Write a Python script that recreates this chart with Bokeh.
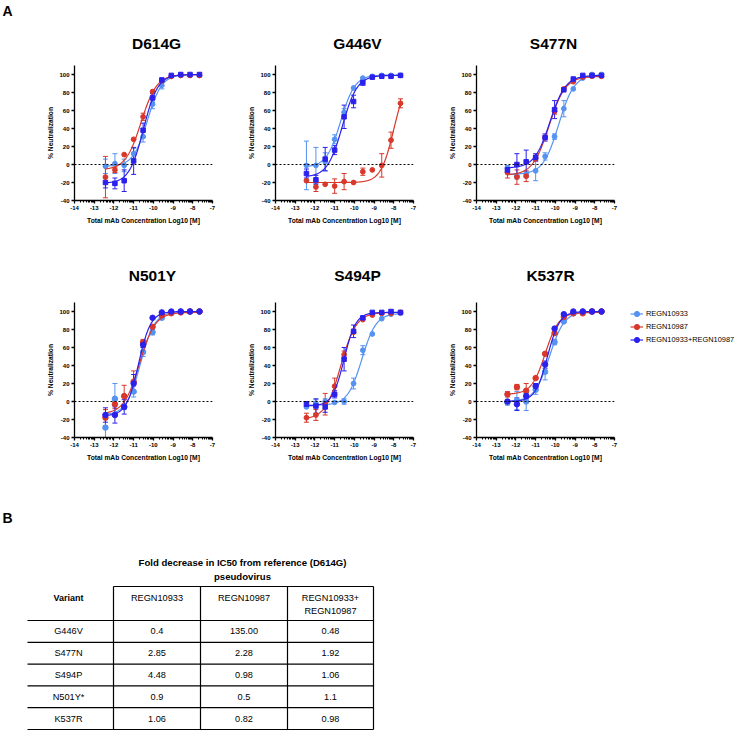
import numpy as np
from bokeh.plotting import figure
from bokeh.layouts import column, row
from bokeh.models import (Range1d, FixedTicker, Span, Whisker, TeeHead, ColumnDataSource,
                          Legend, LegendItem, Spacer)
from bokeh.core.properties import value
from bokeh.embed import file_html
from bokeh.resources import INLINE

# ---------------- data ----------------
conc = [-12.43, -11.95, -11.48, -11.00, -10.52, -10.04, -9.57, -9.09, -8.61, -8.14, -7.66]
series_names = ["REGN10933", "REGN10987", "REGN10933+REGN10987"]
variants_row1 = ["D614G", "G446V", "S477N"]
variants_row2 = ["N501Y", "S494P", "K537R"]

xticks = [-14, -13, -12, -11, -10, -9, -8, -7]
xtick_labels = ["-14", "-13", "-12", "-11", "-10", "-9", "-8", "-7"]
yticks = [-40, -20, 0, 20, 40, 60, 80, 100]
ytick_labels = ["-40", "-20", "0", "20", "40", "60", "80", "100"]

# D614G
d614g_10933 = [-2, 1, -1, 12, 31, 67, 88, 98, 99, 99, 99]
d614g_10933_sd = [8, 11, 7, 6, 6, 5, 4, 0, 0, 0, 0]
d614g_10987 = [-14, -6, 11, 28, 53, 81, 93, 98, 99, 99, 99]
d614g_10987_sd = [23, 3, 0, 0, 4, 2, 2, 0, 0, 0, 0]
d614g_combo = [-20, -21, -18, 4, 38, 74, 94, 99, 100, 100, 100]
d614g_combo_sd = [6, 6, 12, 15, 8, 5, 2, 0, 0, 0, 0]
d614g_fit_10933 = [-2, 100, -10.30, 1.2]
d614g_fit_10987 = [-6, 100, -10.62, 1.1]
d614g_fit_combo = [-21, 100, -10.50, 1.2]

# G446V
g446v_10933 = [-1, -1, 3, 28, 58, 85, 96, 98, 99, 99, 99]
g446v_10933_sd = [27, 20, 10, 5, 4, 2, 2, 0, 0, 0, 0]
g446v_10987 = [-18, -25, -22, -24, -19, -20, -8, -6, -1, 27, 68]
g446v_10987_sd = [0, 5, 0, 8, 9, 0, 4, 0, 13, 9, 5]
g446v_combo = [-10, -17, 6, 16, 53, 70, 91, 97, 98, 98, 99]
g446v_combo_sd = [5, 5, 13, 5, 13, 7, 3, 0, 0, 0, 0]
g446v_fit_10933 = [-3, 99.5, -10.69, 1.2]
g446v_fit_10987 = [-20, 100, -7.99, 1.3]
g446v_fit_combo = [-14, 99, -10.61, 1.15]

# S477N
s477n_10933 = [-4, -13, -11, -7, 9, 31, 62, 84, 96, 100, 100]
s477n_10933_sd = [3, 3, 3, 11, 4, 3, 9, 0, 0, 0, 0]
s477n_10987 = [-9, -14, -13, 7, 30, 59, 84, 92, 97, 98, 98]
s477n_10987_sd = [6, 8, 6, 3, 2, 3, 2, 0, 0, 0, 0]
s477n_combo = [-6, 0, 3, 8, 30, 61, 83, 95, 99, 99, 99]
s477n_combo_sd = [3, 12, 13, 4, 4, 10, 2, 0, 0, 0, 0]
s477n_fit_10933 = [-11, 100, -9.83, 1.1]
s477n_fit_10987 = [-12, 98, -10.32, 1.05]
s477n_fit_combo = [-4, 99, -10.27, 1.1]

# N501Y
n501y_10933 = [-29, 3, -6, 11, 55, 77, 93, 99, 100, 100, 100]
n501y_10933_sd = [12, 17, 3, 6, 5, 3, 0, 0, 0, 0, 0]
n501y_10987 = [-18, -3, 6, 22, 66, 83, 96, 98, 99, 100, 100]
n501y_10987_sd = [9, 5, 12, 12, 3, 2, 0, 0, 0, 0, 0]
n501y_combo = [-15, -15, -6, 20, 63, 93, 99, 100, 100, 100, 100]
n501y_combo_sd = [8, 9, 8, 10, 3, 0, 0, 0, 0, 0, 0]
n501y_fit_10933 = [-15, 100, -10.65, 1.2]
n501y_fit_10987 = [-14, 99, -10.70, 1.1]
n501y_fit_combo = [-16, 100, -10.75, 1.4]

# S494P
s494p_10933 = [-6, -2, 0, -1, 0, 20, 57, 75, 92, 97, 98]
s494p_10933_sd = [2, 4, 3, 0, 3, 6, 5, 0, 0, 0, 0]
s494p_10987 = [-18, -15, -3, 17, 52, 77, 91, 96, 98, 98, 99]
s494p_10987_sd = [5, 6, 12, 9, 4, 2, 0, 0, 0, 0, 0]
s494p_combo = [-3, -5, -6, 8, 47, 78, 93, 99, 99, 100, 99]
s494p_combo_sd = [3, 8, 6, 4, 13, 7, 0, 0, 0, 0, 0]
s494p_fit_10933 = [-4, 98, -9.62, 1.2]
s494p_fit_10987 = [-20, 99, -10.69, 1.1]
s494p_fit_combo = [-5, 99, -10.52, 1.45]

# K537R
k537r_10933 = [-1, 1, 0, 13, 33, 66, 89, 98, 100, 100, 100]
k537r_10933_sd = [3, 10, 10, 5, 9, 3, 2, 0, 0, 0, 0]
k537r_10987 = [8, 16, 12, 26, 53, 76, 94, 98, 98, 100, 100]
k537r_10987_sd = [3, 3, 8, 2, 2, 2, 0, 0, 0, 0, 0]
k537r_combo = [0, -3, 6, 17, 41, 81, 97, 100, 100, 100, 100]
k537r_combo_sd = [2, 7, 3, 3, 4, 2, 0, 0, 0, 0, 0]
k537r_fit_10933 = [0, 100, -10.30, 1.15]
k537r_fit_10987 = [8, 99, -10.51, 1.25]
k537r_fit_combo = [0, 100, -10.40, 1.4]

# Table B
table_title = ["Fold decrease in IC50 from reference (D614G)", "pseudovirus"]
table_header = ["REGN10933", "REGN10987", "REGN10933+\nREGN10987"]
table_variants = ["G446V", "S477N", "S494P", "N501Y*", "K537R"]
fold_10933 = ["0.4", "2.85", "4.48", "0.9", "1.06"]
fold_10987 = ["135.00", "2.28", "0.98", "0.5", "0.82"]
fold_combo = ["0.48", "1.92", "1.06", "1.1", "0.98"]

# ---------------- style ----------------
FONT = "Liberation Sans"
COLORS = ["#5592f2", "#d8372a", "#2b20ec"]

panels = {
    "D614G": ([d614g_10933, d614g_10987, d614g_combo],
              [d614g_10933_sd, d614g_10987_sd, d614g_combo_sd],
              [d614g_fit_10933, d614g_fit_10987, d614g_fit_combo], "square"),
    "G446V": ([g446v_10933, g446v_10987, g446v_combo],
              [g446v_10933_sd, g446v_10987_sd, g446v_combo_sd],
              [g446v_fit_10933, g446v_fit_10987, g446v_fit_combo], "square"),
    "S477N": ([s477n_10933, s477n_10987, s477n_combo],
              [s477n_10933_sd, s477n_10987_sd, s477n_combo_sd],
              [s477n_fit_10933, s477n_fit_10987, s477n_fit_combo], "square"),
    "N501Y": ([n501y_10933, n501y_10987, n501y_combo],
              [n501y_10933_sd, n501y_10987_sd, n501y_combo_sd],
              [n501y_fit_10933, n501y_fit_10987, n501y_fit_combo], "circle"),
    "S494P": ([s494p_10933, s494p_10987, s494p_combo],
              [s494p_10933_sd, s494p_10987_sd, s494p_combo_sd],
              [s494p_fit_10933, s494p_fit_10987, s494p_fit_combo], "square"),
    "K537R": ([k537r_10933, k537r_10987, k537r_combo],
              [k537r_10933_sd, k537r_10987_sd, k537r_combo_sd],
              [k537r_fit_10933, k537r_fit_10987, k537r_fit_combo], "circle"),
}

xminor = [float(d + np.log10(k)) for d in xticks[:-1] for k in range(2, 10)]

# ---------------- geometry ----------------
W = 738
LEFT = 40          # space left of the first panel figure
PW = 201           # panel figure width
ML = 34            # left border inside each panel figure
FW = 138           # frame width
HS1, H1 = 55, 190  # title strip / panel row 1
HS2, H2 = 45, 195  # title strip / panel row 2
H3 = 246           # table


def make_panel(name, width, height, mbt, mbr, mbb):
    means, sds, fits, dark_marker = panels[name]
    p = figure(width=width, height=height, x_range=Range1d(-14, -7), y_range=Range1d(-40, 110),
               output_backend="svg", toolbar_location=None,
               min_border_left=ML, min_border_right=mbr, min_border_top=mbt, min_border_bottom=mbb)
    p.outline_line_color = None
    p.grid.visible = False

    p.xaxis.ticker = FixedTicker(ticks=xticks, minor_ticks=xminor)
    p.xaxis.major_label_overrides = dict(zip(xticks, xtick_labels))
    p.yaxis.ticker = FixedTicker(ticks=yticks, minor_ticks=[])
    p.yaxis.major_label_overrides = dict(zip(yticks, ytick_labels))
    p.xaxis.axis_label = "Total mAb Concentration Log10 [M]"
    p.yaxis.axis_label = "% Neutralization"
    for ax in (p.xaxis[0], p.yaxis[0]):
        ax.axis_line_width = 1.3
        ax.axis_line_color = "black"
        ax.major_tick_line_color = "black"
        ax.minor_tick_line_color = "black"
        ax.major_tick_line_width = 1.3
        ax.minor_tick_line_width = 1
        ax.major_tick_out = 3
        ax.major_tick_in = 0
        ax.minor_tick_out = 2
        ax.minor_tick_in = 0
        ax.major_label_text_font = FONT
        ax.major_label_text_font_style = "bold"
        ax.major_label_text_font_size = "6px"
        ax.major_label_text_color = "black"
        ax.major_label_standoff = 2
        ax.axis_label_text_font = FONT
        ax.axis_label_text_font_style = "bold"
        ax.axis_label_text_font_size = "6.7px"
        ax.axis_label_text_color = "black"
    p.xaxis.axis_label_standoff = 4
    p.yaxis.axis_label_standoff = 2

    p.add_layout(Span(location=0, dimension="width", line_color="black",
                      line_dash="2 2", line_width=1))

    xs = np.linspace(conc[0], conc[-1], 200)
    for i in range(3):
        col = COLORS[i]
        b, t, ec, h = fits[i]
        ys = b + (t - b) / (1 + 10 ** ((ec - xs) * h))
        p.line(xs, ys, line_color=col, line_width=1.2)
        m = np.array(means[i], dtype=float)
        s = np.array(sds[i], dtype=float)
        keep = s >= 2.5
        src = ColumnDataSource(dict(x=np.array(conc)[keep], upper=(m + s)[keep], lower=(m - s)[keep]))
        p.add_layout(Whisker(source=src, base="x", upper="upper", lower="lower",
                             dimension="height", line_color=col, line_width=1,
                             upper_head=TeeHead(size=5, line_color=col, line_width=1),
                             lower_head=TeeHead(size=5, line_color=col, line_width=1)))
        marker = dark_marker if i == 2 else "circle"
        if marker == "square":
            size = 4.5
        elif dark_marker == "circle":
            size = 5.5
        else:
            size = 4.8
        p.scatter(conc, means[i], marker=marker, size=size, fill_color=col, line_color=col)
    return p


def strip(height):
    s = figure(width=W, height=height, x_range=Range1d(0, W), y_range=Range1d(height, 0),
               output_backend="svg", toolbar_location=None, x_axis_type=None, y_axis_type=None,
               min_border=0)
    s.outline_line_color = None
    return s


frame_centers = [LEFT + ML + FW / 2 + k * PW for k in range(3)]

# title strip, row 1 (with panel letter A)
s1 = strip(HS1)
s1.text(x=[2], y=[10], text=["A"], text_font=value(FONT), text_font_style="bold",
        text_font_size="14px", text_baseline="middle", text_align="left")
s1.text(x=[c + d for c, d in zip(frame_centers, [13, 13, 8])], y=[43] * 3, text=variants_row1,
        text_font=value(FONT), text_font_style="bold", text_font_size="15.5px",
        text_baseline="middle", text_align="center")

# title strip, row 2
s2 = strip(HS2)
s2.text(x=[c + d for c, d in zip(frame_centers, [9, 13, 5])], y=[30] * 3, text=variants_row2,
        text_font=value(FONT), text_font_style="bold", text_font_size="15.5px",
        text_baseline="middle", text_align="center")

f1 = make_panel("D614G", PW, H1, 10, 29, 45)
f2 = make_panel("G446V", PW, H1, 10, 29, 45)
f3 = make_panel("S477N", PW, H1, 10, 29, 45)
f4 = make_panel("N501Y", PW, H2, 12, 29, 48)
f5 = make_panel("S494P", PW, H2, 12, 29, 48)
f6 = make_panel("K537R", ML + FW + 6, H2, 12, 6, 48)

# legend figure (legend drawn from real renderers whose points sit outside the visible range)
LW = W - LEFT - PW * 2 - (ML + FW + 6)
lfig = figure(width=LW, height=H2, x_range=Range1d(0, 1), y_range=Range1d(0, 1),
              output_backend="svg", toolbar_location=None, x_axis_type=None, y_axis_type=None,
              min_border_left=0, min_border_right=0, min_border_top=12, min_border_bottom=48)
lfig.outline_line_color = None
items = []
for i in range(3):
    lr = lfig.line(x=[5, 6], y=[5, 5], line_color=COLORS[i], line_width=1.2)
    sr = lfig.scatter(x=[5], y=[5], marker="circle", size=5.5, fill_color=COLORS[i], line_color=COLORS[i])
    items.append(LegendItem(label=series_names[i], renderers=[lr, sr]))
lg = Legend(items=items, location=(10, 91), orientation="vertical",
            border_line_color=None, background_fill_alpha=0,
            padding=0, margin=0, spacing=0, glyph_width=13, glyph_height=13,
            label_standoff=3, label_height=13, label_text_color="black",
            label_text_font=FONT, label_text_font_size="7.4px")
lfig.add_layout(lg)

# table figure (coordinates in pixels, y downwards)
tf = strip(H3)
tf.text(x=[2], y=[32], text=["B"], text_font=value(FONT), text_font_style="bold",
        text_font_size="14px", text_baseline="middle", text_align="left")
tf.text(x=[242, 242], y=[77, 91], text=table_title, text_font=value(FONT),
        text_font_style="bold", text_font_size="9.6px", text_baseline="middle", text_align="center")

col_edges = [113, 200, 287, 373]
var_left = 27
var_center = 68
top = 101
header_h = 34
row_h = 21.8
row_lines = [top + header_h + k * row_h for k in range(len(table_variants) + 1)]
bottom = row_lines[-1]

tf.segment(x0=[col_edges[0]], y0=[top], x1=[col_edges[-1]], y1=[top], line_color="black", line_width=1.2)
tf.segment(x0=[var_left] * len(row_lines), y0=row_lines, x1=[col_edges[-1]] * len(row_lines),
           y1=row_lines, line_color="black", line_width=1.2)
tf.segment(x0=col_edges, y0=[top] * 4, x1=col_edges, y1=[bottom] * 4, line_color="black", line_width=1.2)

tf.text(x=[var_center], y=[top + 11], text=["Variant"], text_font=value(FONT), text_font_style="bold",
        text_font_size="9px", text_baseline="middle", text_align="center")
hx, hy, ht = [], [], []
for j, lab in enumerate(table_header):
    cx = (col_edges[j] + col_edges[j + 1]) / 2
    for k, line in enumerate(lab.split("\n")):
        hx.append(cx)
        hy.append(top + 11 + k * 13)
        ht.append(line)
tf.text(x=hx, y=hy, text=ht, text_font=value(FONT), text_font_size="9.2px",
        text_baseline="middle", text_align="center")

cx_l, cy_l, ct_l = [], [], []
for i, v in enumerate(table_variants):
    cy = row_lines[i] + row_h / 2
    vals = [v, fold_10933[i], fold_10987[i], fold_combo[i]]
    xs_c = [var_center] + [(col_edges[j] + col_edges[j + 1]) / 2 for j in range(3)]
    for xx, tt in zip(xs_c, vals):
        cx_l.append(xx)
        cy_l.append(cy)
        ct_l.append(tt)
tf.text(x=cx_l, y=cy_l, text=ct_l, text_font=value(FONT), text_font_size="9.2px",
        text_baseline="middle", text_align="center")

layout = column(
    s1,
    row(Spacer(width=LEFT, height=H1), f1, f2, f3, Spacer(width=W - LEFT - 3 * PW, height=H1)),
    s2,
    row(Spacer(width=LEFT, height=H2), f4, f5, f6, lfig),
    tf,
)

open("out.html", "w").write(file_html(layout, INLINE))
